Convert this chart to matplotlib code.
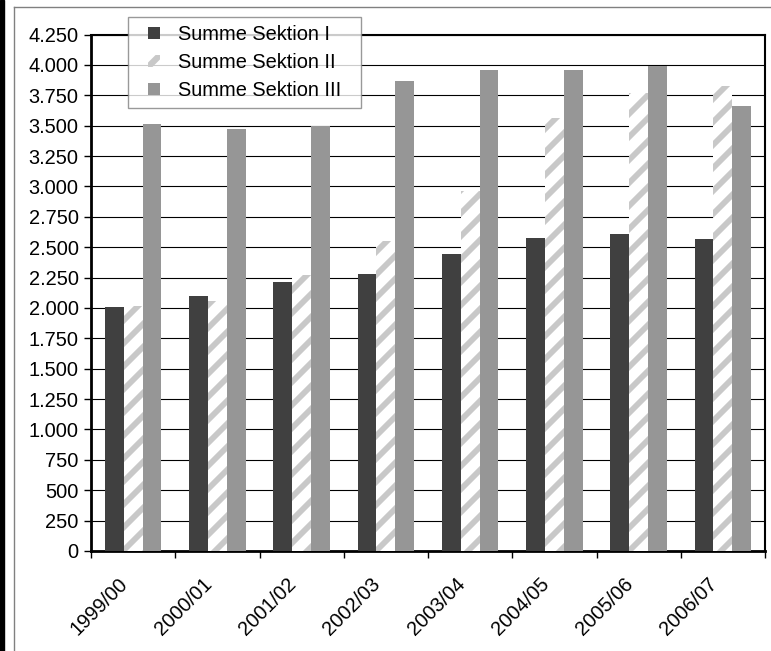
import matplotlib
matplotlib.use("Agg")
import matplotlib.pyplot as plt
import numpy as np
from matplotlib.lines import Line2D
from matplotlib.patches import Rectangle, Polygon
from matplotlib.collections import LineCollection
from matplotlib.legend_handler import HandlerPatch
from matplotlib.transforms import ScaledTranslation, IdentityTransform
from matplotlib.ticker import FuncFormatter, FixedLocator

seasons = ["1999/00", "2000/01", "2001/02", "2002/03", "2003/04",
           "2004/05", "2005/06", "2006/07"]
sektion_1 = [2010, 2100, 2215, 2280, 2445, 2575, 2610, 2565]
sektion_2 = [2015, 2060, 2270, 2550, 2960, 3565, 3765, 3830]
sektion_3 = [3515, 3475, 3495, 3865, 3955, 3955, 3990, 3660]
labels = ["Summe Sektion I", "Summe Sektion II", "Summe Sektion III"]

plt.rcParams['font.family'] = ['Liberation Sans', 'DejaVu Sans']

W, H = 771, 651
fig = plt.figure(figsize=(W / 100, H / 100), dpi=100)
ax = fig.add_axes([91 / W, 1 - 551 / H, (765 - 91) / W, (551 - 34.5) / H])

x = np.arange(len(seasons)) + 0.5
bw = 0.224
b1 = ax.bar(x - bw, sektion_1, bw, color="#404040", linewidth=0, zorder=3)
b2 = ax.bar(x, sektion_2, bw, color="white", linewidth=0, zorder=3)
b3 = ax.bar(x + bw, sektion_3, bw, color="#969696", linewidth=0, zorder=3)

ax.set_xlim(0, len(seasons))
ax.set_ylim(0, 4250)
ax.yaxis.set_major_locator(FixedLocator(np.arange(0, 4251, 250)))
ax.yaxis.set_major_formatter(FuncFormatter(lambda v, p: f"{int(v):,}".replace(",", ".")))
ax.grid(axis="y", color="black", linewidth=0.8, zorder=1)

# diagonal stripes on Sektion II bars (pixel-space, clipped to each bar)
period = 23
for bar in b2:
    (px0, py0), (px1, py1) = ax.transData.transform(
        [(bar.get_x(), 0), (bar.get_x() + bar.get_width(), bar.get_height())])
    c0 = int(np.floor((py0 - px1) / period)) - 1
    c1 = int(np.ceil((py1 - px0) / period)) + 1
    segs = [[(px0 - 5, px0 - 5 + k * period), (px1 + 5, px1 + 5 + k * period)]
            for k in range(c0, c1 + 1)]
    lc = LineCollection(segs, colors="#c8c8c8", linewidths=4.2,
                        transform=IdentityTransform(), zorder=3.5)
    ax.add_collection(lc, autolim=False)
    lc.set_clip_path(bar)

# ticks on category boundaries, labels on centres
ax.set_xticks(np.arange(len(seasons) + 1))
ax.set_xticklabels([])
ax.set_xticks(x, minor=True)
ax.set_xticklabels(seasons, minor=True, rotation=45, ha="right",
                   rotation_mode="anchor", fontsize=14.4)
ax.tick_params(axis="x", which="minor", length=0, pad=17)
ax.tick_params(axis="x", which="major", direction="out", length=5, width=1)
ax.tick_params(axis="y", direction="out", length=5, width=1, labelsize=14.4, pad=4)
shift = ScaledTranslation(-15 / 100, 0, fig.dpi_scale_trans)
for lab in ax.get_xticklabels(minor=True):
    lab.set_transform(lab.get_transform() + shift)

for s in ax.spines.values():
    s.set_color("black")
ax.spines["left"].set_linewidth(2)
ax.spines["bottom"].set_linewidth(2)
ax.spines["top"].set_linewidth(1.5)
ax.spines["right"].set_linewidth(1.5)

SQ = 8.6


def small_square(legend, orig_handle, xdescent, ydescent, width, height, fontsize):
    return Rectangle((width / 2 - SQ / 2 - xdescent, height / 2 - SQ / 2 - ydescent), SQ, SQ)


def small_band(legend, orig_handle, xdescent, ydescent, width, height, fontsize):
    x0 = width / 2 - SQ / 2 - xdescent
    y0 = height / 2 - SQ / 2 - ydescent
    w = 3.2
    return Polygon([(x0, y0), (x0 + w, y0), (x0 + SQ, y0 + SQ - w),
                    (x0 + SQ, y0 + SQ), (x0 + SQ - w, y0 + SQ), (x0, y0 + w)])


proxy_2 = Polygon([(0, 0), (1, 0), (1, 1)], facecolor="#c8c8c8", linewidth=0)
leg = fig.legend(handles=[b1[0], proxy_2, b3[0]], labels=labels, loc="upper left",
                 bbox_to_anchor=(128 / W, 1 - 104 / H, 233 / W, 87 / H),
                 mode="expand", borderaxespad=0,
                 fontsize=14.4, frameon=True, fancybox=False,
                 handlelength=1.8, handleheight=0.7, handletextpad=0.3,
                 labelspacing=0.45, borderpad=0.4,
                 handler_map={Rectangle: HandlerPatch(patch_func=small_square),
                              Polygon: HandlerPatch(patch_func=small_band)})
leg.get_frame().set_edgecolor("#808080")
leg.get_frame().set_linewidth(1)
leg.set_zorder(10)

# outer chart frame
fig.add_artist(Line2D([13.5 / W, 13.5 / W], [0, 1 - 7 / H], color="#808080",
                      linewidth=1, transform=fig.transFigure))
fig.add_artist(Line2D([13.5 / W, 1], [1 - 7 / H, 1 - 7 / H], color="#808080",
                      linewidth=1, transform=fig.transFigure))
fig.add_artist(Rectangle((0, 0), 3.5 / W, 1, color="black",
                         transform=fig.transFigure))

fig.savefig("out.png", dpi=100)
